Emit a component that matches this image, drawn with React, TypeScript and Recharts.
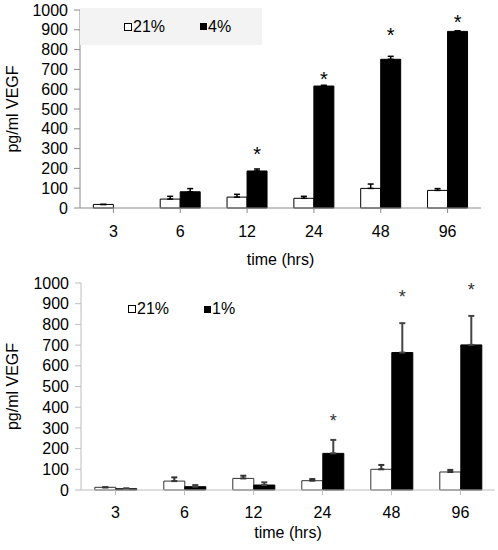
import React from 'react';
import { BarChart, Bar, XAxis, YAxis, ErrorBar, Legend, LabelList } from 'recharts';

const hours = ['3', '6', '12', '24', '48', '96'];
const yTicks = [0, 100, 200, 300, 400, 500, 600, 700, 800, 900, 1000];

// top panel: 21% vs 4% O2
const topNormoxia = [18, 45, 55, 49, 99, 89];
const topNormoxiaErr = [0, 14, 14, 10, 22, 9];
const topHypoxia = [0, 82, 187, 616, 751, 892];
const topHypoxiaErr = [0, 16, 10, 4, 15, 3];
const topStars = [null, null, 298, 677, 899, 961];

// bottom panel: 21% vs 1% O2
const botNormoxia = [13, 43, 56, 45, 100, 87];
const botNormoxiaErr = [0, 18, 13, 8, 21, 10];
const botHypoxia = [6, 16, 24, 177, 664, 701];
const botHypoxiaErr = [2, 8, 13, 65, 142, 140];
const botStars = [null, null, null, 355, 955, 988];

const FONT = '"Liberation Sans", Arial, sans-serif';

const build = (a: number[], ae: number[], b: number[], be: number[], s: (number | null)[]) =>
  hours.map((h, i) => ({
    hour: h,
    normoxia: a[i],
    normoxiaErr: [0, ae[i]],
    hypoxia: b[i],
    hypoxiaErr: [0, be[i]],
    star: s[i],
  }));

const topData = build(topNormoxia, topNormoxiaErr, topHypoxia, topHypoxiaErr, topStars);
const botData = build(botNormoxia, botNormoxiaErr, botHypoxia, botHypoxiaErr, botStars);

const starKey = (d: any) => (d.star == null || !d.hypoxia ? null : `${d.star}|${d.hypoxia}`);

const makeStar = (size: number, color: string) => (props: any) => {
  const { x, y, width, height, value } = props;
  if (value == null || typeof value !== 'string') return null;
  const [s, v] = value.split('|').map(Number);
  if (!v || !height) return null;
  const pxPerUnit = height / v;
  const base = y + height;
  const cy = base - s * pxPerUnit;
  return (
    <text x={x + width / 2} y={cy + size * 0.58} textAnchor="middle" fontSize={size} fontFamily={FONT} fill={color}>
      *
    </text>
  );
};

const makeLegend = (label2: string, bg: string | undefined) => () => (
  <div
    style={{
      width: '100%',
      height: '100%',
      background: bg,
      fontFamily: FONT,
      fontSize: 16,
      color: '#000',
      position: 'relative',
    }}
  >
    <div style={{ position: 'absolute', left: 44, top: 0, height: '100%', display: 'flex', alignItems: 'center' }}>
      <span style={{ display: 'inline-block', width: 6, height: 6, border: '1px solid #000', background: '#fff', marginRight: 1 }} />
      <span>21%</span>
    </div>
    <div style={{ position: 'absolute', left: 120, top: 0, height: '100%', display: 'flex', alignItems: 'center' }}>
      <span style={{ display: 'inline-block', width: 7, height: 7, background: '#000', marginRight: 1 }} />
      <span>{label2}</span>
    </div>
  </div>
);

const yLabel = (props: any) => {
  const { viewBox } = props;
  const cy = viewBox.y + viewBox.height / 2;
  return (
    <text
      x={12}
      y={cy}
      transform={`rotate(-90, 12, ${cy})`}
      textAnchor="middle"
      dominantBaseline="central"
      fontSize={16}
      fontFamily={FONT}
      fill="#000"
    >
      pg/ml VEGF
    </text>
  );
};

export default function App() {
  return (
    <div style={{ position: 'absolute', left: 0, top: 0, width: 498, height: 550, background: '#fff' }}>
      <div style={{ position: 'absolute', left: 0, top: 0 }}>
        <BarChart
          width={498}
          height={270}
          data={topData}
          margin={{ top: 10, right: 17, left: 0, bottom: 0 }}
          barCategoryGap="20%"
          barGap={0}
        >
          <XAxis
            dataKey="hour"
            height={62}
            stroke="#8a8a8a"
            tickSize={5}
            tickMargin={13}
            tick={{ fill: '#000', fontSize: 16, fontFamily: FONT }}
            label={{ value: 'time (hrs)', position: 'insideBottom', offset: 5, fill: '#000', fontSize: 16, fontFamily: FONT }}
          />
          <YAxis
            width={80}
            domain={[0, 1000]}
            ticks={yTicks}
            interval={0}
            stroke="#8a8a8a"
            tickSize={6}
            tickMargin={6}
            tick={{ fill: '#000', fontSize: 16, fontFamily: FONT }}
            label={yLabel}
          />
          <Legend
            layout="vertical"
            align="center"
            verticalAlign="middle"
            wrapperStyle={{ left: 80, top: 8, width: 182, height: 37 }}
            content={makeLegend('4%', '#f3f3f3')}
          />
          <Bar dataKey="normoxia" fill="#fff" stroke="#000" strokeWidth={1} isAnimationActive={false}>
            <ErrorBar dataKey="normoxiaErr" width={3} stroke="#000" strokeWidth={1.5} />
          </Bar>
          <Bar dataKey="hypoxia" fill="#000" stroke="#000" strokeWidth={1} isAnimationActive={false}>
            <ErrorBar dataKey="hypoxiaErr" width={3} stroke="#000" strokeWidth={1.5} />
            <LabelList dataKey={starKey} content={makeStar(20, '#000')} />
          </Bar>
        </BarChart>
      </div>
      <div style={{ position: 'absolute', left: 0, top: 270 }}>
        <BarChart
          width={498}
          height={280}
          data={botData}
          margin={{ top: 13, right: 3, left: 0, bottom: 0 }}
          barCategoryGap="20%"
          barGap={0}
        >
          <XAxis
            dataKey="hour"
            height={60}
            stroke="#bdbdbd"
            tickSize={5}
            tickMargin={12}
            tick={{ fill: '#000', fontSize: 16, fontFamily: FONT }}
            label={{ value: 'time (hrs)', position: 'insideBottom', offset: 12, fill: '#000', fontSize: 16, fontFamily: FONT }}
          />
          <YAxis
            width={81}
            domain={[0, 1000]}
            ticks={yTicks}
            interval={0}
            stroke="#bdbdbd"
            tickSize={6}
            tickMargin={6}
            tick={{ fill: '#000', fontSize: 16, fontFamily: FONT }}
            label={yLabel}
          />
          <Legend
            layout="vertical"
            align="center"
            verticalAlign="middle"
            wrapperStyle={{ left: 84, top: 24, width: 182, height: 30 }}
            content={makeLegend('1%', undefined)}
          />
          <Bar dataKey="normoxia" fill="#fff" stroke="#333" strokeWidth={1} isAnimationActive={false}>
            <ErrorBar dataKey="normoxiaErr" width={3} stroke="#333" strokeWidth={2} />
          </Bar>
          <Bar dataKey="hypoxia" fill="#000" stroke="#000" strokeWidth={1} isAnimationActive={false}>
            <ErrorBar dataKey="hypoxiaErr" width={3} stroke="#444" strokeWidth={2} />
            <LabelList dataKey={starKey} content={makeStar(18, '#333')} />
          </Bar>
        </BarChart>
      </div>
    </div>
  );
}
